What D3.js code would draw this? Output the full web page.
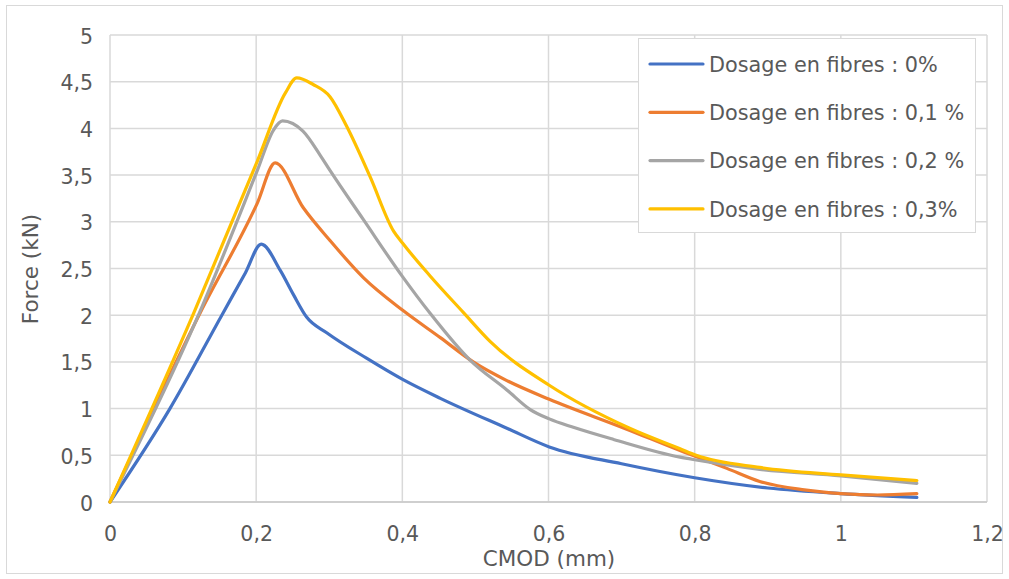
<!DOCTYPE html>
<html>
<head>
<meta charset="utf-8">
<script src="https://cdn.jsdelivr.net/npm/d3@7"></script>
<style>
  html, body { margin: 0; padding: 0; background: #ffffff; }
  svg { display: block; }
  text { font-family: "DejaVu Sans", "Open Sans", sans-serif; fill: #595959; }
</style>
</head>
<body>
<svg id="chart" width="1009" height="579"></svg>
<script>
// ---- data ----
const seriesNames = ["Dosage en fibres : 0%", "Dosage en fibres : 0,1 %", "Dosage en fibres : 0,2 %", "Dosage en fibres : 0,3%"];
const seriesColors = ["#4472C4", "#ED7D31", "#A5A5A5", "#FFC000"];

const cmod0  = [0, 0.082, 0.153, 0.185, 0.207, 0.233, 0.251, 0.269, 0.297, 0.351, 0.401, 0.452, 0.543, 0.601, 0.700, 0.800, 0.900, 1.0, 1.104];
const force0 = [0, 1.0, 2.0, 2.45, 2.76, 2.48, 2.22, 1.98, 1.81, 1.54, 1.31, 1.11, 0.79, 0.59, 0.41, 0.26, 0.15, 0.09, 0.05];

const cmod1  = [0, 0.125, 0.2016, 0.226, 0.2645, 0.301, 0.347, 0.401, 0.452, 0.497, 0.543, 0.601, 0.707, 0.780, 0.844, 0.889, 0.95, 1.0, 1.05, 1.104];
const force1 = [0, 2.05, 3.2, 3.63, 3.15, 2.80, 2.40, 2.05, 1.76, 1.50, 1.30, 1.10, 0.78, 0.55, 0.36, 0.22, 0.13, 0.09, 0.075, 0.09];

const cmod2  = [0, 0.121, 0.2016, 0.2235, 0.236, 0.264, 0.287, 0.301, 0.347, 0.4005, 0.438, 0.4926, 0.543, 0.575, 0.601, 0.634, 0.689, 0.78, 0.802, 0.889, 1.0, 1.104];
const force2 = [0, 2.0, 3.55, 3.98, 4.08, 3.97, 3.72, 3.55, 3.02, 2.41, 2.02, 1.52, 1.20, 0.99, 0.89, 0.80, 0.67, 0.48, 0.45, 0.35, 0.28, 0.20];

const cmod3  = [0, 0.116, 0.2016, 0.24, 0.2555, 0.278, 0.301, 0.324, 0.356, 0.388, 0.4005, 0.438, 0.4834, 0.52, 0.601, 0.711, 0.78, 0.802, 0.889, 1.0, 1.104];
const force3 = [0, 2.05, 3.65, 4.38, 4.54, 4.47, 4.34, 4.02, 3.48, 2.90, 2.77, 2.42, 2.03, 1.72, 1.25, 0.79, 0.57, 0.50, 0.37, 0.29, 0.23];

const xTicks = [0, 0.2, 0.4, 0.6, 0.8, 1.0, 1.2];
const yTicks = [0, 0.5, 1, 1.5, 2, 2.5, 3, 3.5, 4, 4.5, 5];
const xTitle = "CMOD (mm)";
const yTitle = "Force (kN)";

// ---- drawing ----
const W = 1009, H = 579;
const plot = { left: 110, right: 987, top: 35, bottom: 502 };
const svg = d3.select("#chart");

svg.append("rect").attr("x", 0).attr("y", 0).attr("width", W).attr("height", H).attr("fill", "#fff");
svg.append("rect").attr("x", 6.5).attr("y", 5.5).attr("width", 996).attr("height", 568)
  .attr("fill", "none").attr("stroke", "#d9d9d9").attr("stroke-width", 1);

const x = d3.scaleLinear().domain([0, 1.2]).range([plot.left, plot.right]);
const y = d3.scaleLinear().domain([0, 5]).range([plot.bottom, plot.top]);
const fmt = v => d3.format("~g")(v).replace(".", ",");

// grid
const grid = svg.append("g");
grid.selectAll(".hg").data(yTicks).join("line")
  .attr("x1", plot.left).attr("x2", plot.right)
  .attr("y1", d => y(d)).attr("y2", d => y(d))
  .attr("stroke", "#d9d9d9").attr("stroke-width", 1.5);
grid.selectAll(".vg").data(xTicks).join("line")
  .attr("x1", d => x(d)).attr("x2", d => x(d))
  .attr("y1", plot.top).attr("y2", plot.bottom)
  .attr("stroke", "#d9d9d9").attr("stroke-width", 1.5);
svg.append("line").attr("x1", plot.left).attr("x2", plot.right)
  .attr("y1", y(0)).attr("y2", y(0)).attr("stroke", "#c8c8c8").attr("stroke-width", 1.5);

// axes via d3 axis generators (domain/ticks hidden, labels kept)
const xAxis = svg.append("g").attr("transform", `translate(0,${plot.bottom})`)
  .call(d3.axisBottom(x).tickValues(xTicks).tickFormat(fmt).tickSize(0));
const yAxis = svg.append("g").attr("transform", `translate(${plot.left},0)`)
  .call(d3.axisLeft(y).tickValues(yTicks).tickFormat(fmt).tickSize(0));
[xAxis, yAxis].forEach(a => {
  a.select(".domain").remove();
  a.selectAll("text").attr("font-family", "'DejaVu Sans', sans-serif").attr("font-size", 20.5)
    .attr("fill", "#595959").attr("dy", null);
});
xAxis.selectAll("text").attr("y", 39);
yAxis.selectAll("text").attr("x", -17).attr("y", 8);

// titles
svg.append("text").attr("x", 549).attr("y", 566).attr("text-anchor", "middle")
  .attr("font-size", 21.5).text(xTitle);
svg.append("text").attr("transform", "translate(38,269) rotate(-90)").attr("text-anchor", "middle")
  .attr("font-size", 21.5).text(yTitle);

// lines
const series = [
  { name: seriesNames[0], color: seriesColors[0], xs: cmod0, ys: force0 },
  { name: seriesNames[1], color: seriesColors[1], xs: cmod1, ys: force1 },
  { name: seriesNames[2], color: seriesColors[2], xs: cmod2, ys: force2 },
  { name: seriesNames[3], color: seriesColors[3], xs: cmod3, ys: force3 }
];
const line = d3.line().x(d => x(d[0])).y(d => y(d[1])).curve(d3.curveMonotoneX);
svg.append("g").selectAll("path").data(series).join("path")
  .attr("d", s => line(s.xs.map((v, i) => [v, s.ys[i]])))
  .attr("fill", "none").attr("stroke", s => s.color).attr("stroke-width", 3.2)
  .attr("stroke-linejoin", "round").attr("stroke-linecap", "round");

// legend
const lg = svg.append("g");
lg.append("rect").attr("x", 638.5).attr("y", 38.5).attr("width", 337).attr("height", 194)
  .attr("fill", "#fff").attr("stroke", "#d9d9d9").attr("stroke-width", 1);
const items = lg.selectAll("g.item").data(series).join("g").attr("class", "item")
  .attr("transform", (d, i) => `translate(0,${64 + i * 48.3})`);
items.append("line").attr("x1", 650).attr("x2", 703).attr("y1", 0).attr("y2", 0)
  .attr("stroke", d => d.color).attr("stroke-width", 3.2).attr("stroke-linecap", "round");
items.append("text").attr("x", 709).attr("y", 7.7)
  .attr("font-size", 20.8).text(d => d.name);
</script>
</body>
</html>
